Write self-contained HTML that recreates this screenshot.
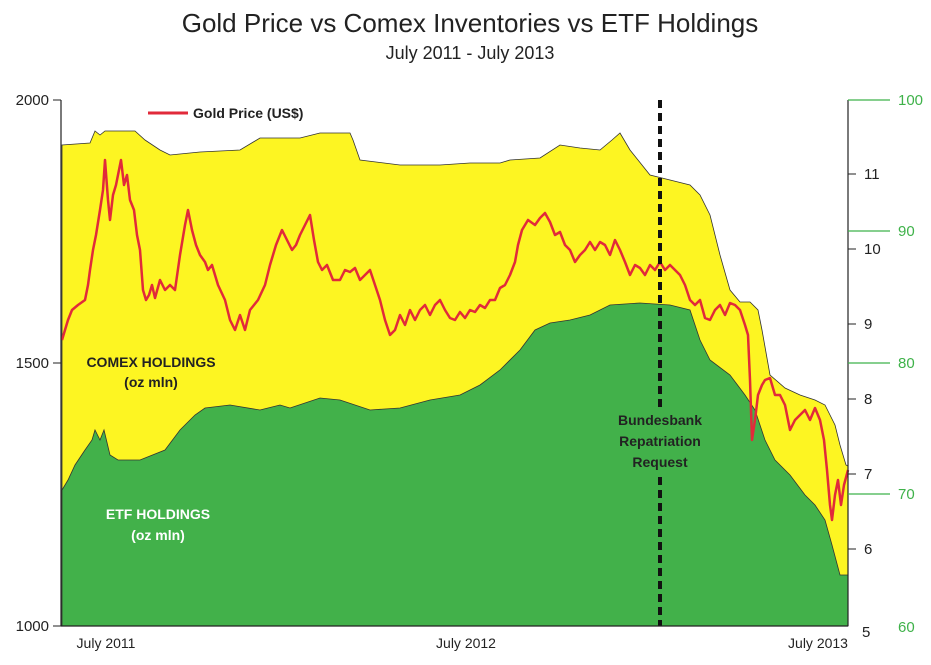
<!DOCTYPE html>
<html><head><meta charset="utf-8"><style>
body{margin:0;background:#fff;width:931px;height:660px;overflow:hidden}
text{font-family:"Liberation Sans",sans-serif}
</style></head><body>
<svg width="931" height="660" viewBox="0 0 931 660">
<text x="470" y="32" font-size="26" text-anchor="middle" fill="#222">Gold Price vs Comex Inventories vs ETF Holdings</text>
<text x="470" y="59" font-size="18" text-anchor="middle" fill="#222">July 2011 - July 2013</text>
<path d="M62,626 L62,145 L90,143 L95,131 L100,135 L105,131 L135,131 L145,140 L160,150 L170,155 L200,152 L240,150 L260,138 L300,138 L320,133 L350,133 L353,140 L360,160 L400,165 L440,165 L470,163 L500,163 L510,160 L540,158 L560,145 L580,148 L600,150 L612,140 L620,133 L630,150 L650,175 L670,180 L690,185 L700,195 L710,215 L720,255 L730,290 L740,302 L750,302 L758,310 L762,330 L770,375 L785,388 L800,395 L815,400 L825,405 L835,425 L840,445 L846,465 L848,466 L848,626 Z" fill="#fdf522" stroke="#333" stroke-width="0.8"/>
<path d="M62,626 L62,490 L68,480 L75,465 L85,450 L92,440 L95,430 L100,440 L104,430 L110,455 L118,460 L140,460 L165,450 L180,430 L195,415 L205,408 L230,405 L260,410 L280,405 L290,408 L320,398 L340,400 L370,410 L400,408 L430,400 L460,395 L480,385 L500,370 L520,350 L535,330 L550,323 L570,320 L590,315 L610,305 L640,303 L670,305 L690,310 L700,340 L710,360 L730,375 L745,395 L755,410 L765,440 L775,460 L790,475 L805,495 L815,505 L825,520 L832,545 L840,575 L848,575 L848,626 Z" fill="#42b14a" stroke="#333" stroke-width="0.8"/>
<polyline fill="none" stroke="#e12a3a" stroke-width="2.5" stroke-linejoin="round" points="62,340 68,320 72,310 78,305 85,300 88,285 90,270 93,250 96,235 100,210 103,190 105,160 108,200 110,220 113,195 116,185 119,170 121,160 124,185 127,175 130,200 134,210 137,235 140,250 143,290 146,300 149,295 152,285 155,298 160,280 165,290 170,285 175,290 180,255 185,225 188,210 192,230 196,245 200,255 205,262 208,270 212,265 218,285 225,300 230,320 235,330 240,315 245,330 250,310 258,300 265,285 270,265 276,245 282,230 287,240 292,250 296,245 300,235 305,225 310,215 314,240 318,262 322,270 327,265 333,280 340,280 345,270 350,272 355,268 360,280 365,275 370,270 375,285 380,300 385,320 390,335 395,330 400,315 405,325 410,310 415,320 420,310 425,305 430,315 435,305 440,300 445,310 450,318 455,320 460,312 465,318 470,310 475,312 480,305 485,308 490,300 495,300 500,288 505,285 510,275 515,262 518,245 522,230 528,220 535,225 540,218 545,213 550,222 555,235 560,232 565,245 570,250 575,262 580,255 585,250 590,242 595,250 600,242 605,245 610,255 615,240 620,250 625,262 630,275 635,265 640,268 645,275 650,265 655,270 660,262 665,270 670,265 675,270 680,275 685,285 690,300 695,305 700,300 705,318 710,320 715,310 720,305 725,315 730,303 735,305 740,310 745,325 748,335 750,380 752,440 755,420 758,395 762,385 765,380 770,378 775,395 780,395 785,405 790,430 795,420 800,415 805,410 810,420 815,408 820,420 824,440 827,470 830,505 832,520 835,495 838,480 841,505 844,485 848,470"/>
<line x1="660" y1="100" x2="660" y2="407" stroke="#111" stroke-width="4" stroke-dasharray="8,5"/>
<line x1="660" y1="477" x2="660" y2="626" stroke="#111" stroke-width="4" stroke-dasharray="8,5"/>
<line x1="61" y1="100" x2="61" y2="626" stroke="#222" stroke-width="1.2"/>
<line x1="61" y1="626" x2="848" y2="626" stroke="#222" stroke-width="1.2"/>
<line x1="848" y1="100" x2="848" y2="626" stroke="#222" stroke-width="1.2"/>
<g stroke="#222" stroke-width="1"><line x1="53" y1="100" x2="61" y2="100"/><line x1="53" y1="363" x2="61" y2="363"/><line x1="53" y1="626" x2="61" y2="626"/>
<line x1="848" y1="174" x2="856" y2="174"/><line x1="848" y1="249" x2="856" y2="249"/><line x1="848" y1="324" x2="856" y2="324"/><line x1="848" y1="399" x2="856" y2="399"/><line x1="848" y1="474" x2="856" y2="474"/><line x1="848" y1="549" x2="856" y2="549"/></g>
<g stroke="#3fb24a" stroke-width="1.2"><line x1="848" y1="100" x2="890" y2="100"/><line x1="848" y1="231" x2="890" y2="231"/><line x1="848" y1="363" x2="890" y2="363"/><line x1="848" y1="494" x2="890" y2="494"/></g>
<g font-size="15" fill="#222" text-anchor="end"><text x="49" y="105">2000</text><text x="49" y="368">1500</text><text x="49" y="631">1000</text></g>
<g font-size="15" fill="#222"><text x="864" y="179">11</text><text x="864" y="254">10</text><text x="864" y="329">9</text><text x="864" y="404">8</text><text x="864" y="479">7</text><text x="864" y="554">6</text><text x="862" y="637">5</text></g>
<g font-size="15" fill="#3fb24a"><text x="898" y="105">100</text><text x="898" y="236">90</text><text x="898" y="368">80</text><text x="898" y="499">70</text><text x="898" y="632">60</text></g>
<g font-size="14" fill="#222" text-anchor="middle"><text x="106" y="648">July 2011</text><text x="466" y="648">July 2012</text><text x="818" y="648">July 2013</text></g>
<line x1="148" y1="113" x2="188" y2="113" stroke="#e12a3a" stroke-width="3"/>
<text x="193" y="118" font-size="14" font-weight="bold" fill="#222">Gold Price (US$)</text>
<g font-size="14" font-weight="bold" text-anchor="middle" fill="#222"><text x="151" y="367">COMEX HOLDINGS</text><text x="151" y="387">(oz mln)</text>
<text x="660" y="425">Bundesbank</text><text x="660" y="446">Repatriation</text><text x="660" y="467">Request</text></g>
<g font-size="14" font-weight="bold" text-anchor="middle" fill="#fff"><text x="158" y="519">ETF HOLDINGS</text><text x="158" y="540">(oz mln)</text></g>
</svg>
</body></html>
